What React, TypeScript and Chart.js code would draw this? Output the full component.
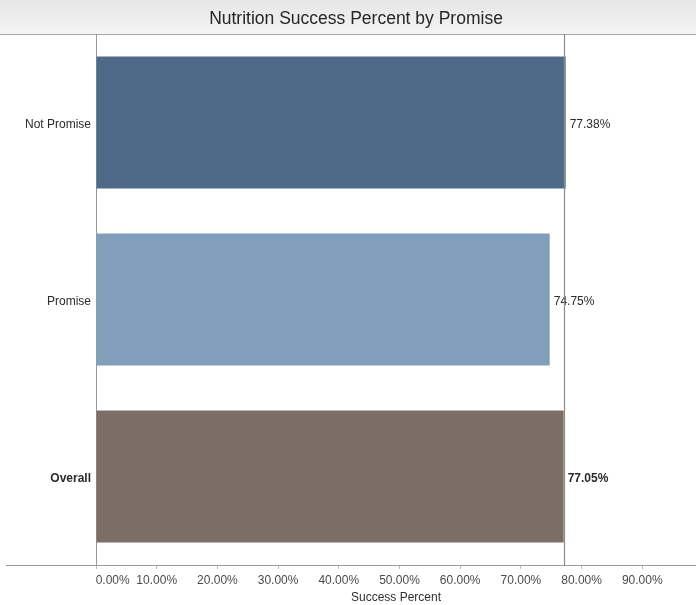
import React, { useEffect, useRef } from "react";
import { Chart, registerables } from "chart.js";

Chart.register(...registerables);

const categories = ["Not Promise", "Promise", "Overall"];
const successPct = [77.38, 74.75, 77.05];
const barColors = ["#4f6a88", "#819fbb", "#7c6e67"];
const xTickValues = [0, 10, 20, 30, 40, 50, 60, 70, 80, 90];
const referenceValue = 77.05;
const titleText = "Nutrition Success Percent by Promise";
const xAxisTitle = "Success Percent";

const FONT = "'Liberation Sans', Arial, Helvetica, sans-serif";

export default function App() {
  const ref = useRef<HTMLCanvasElement | null>(null);

  useEffect(() => {
    document.body.style.margin = "0";
    const canvas = ref.current!;
    const decor = {
      id: "decor",
      beforeDraw(chart: any) {
        const { ctx, width } = chart;
        ctx.save();
        ctx.fillStyle = "#ffffff";
        ctx.fillRect(0, 0, width, chart.height);
        const g = ctx.createLinearGradient(0, 0, 0, 34);
        g.addColorStop(0, "#e6e6e6");
        g.addColorStop(1, "#f4f4f4");
        ctx.fillStyle = g;
        ctx.fillRect(0, 0, width, 34);
        ctx.strokeStyle = "#a8a8a8";
        ctx.lineWidth = 1;
        ctx.beginPath();
        ctx.moveTo(0, 34.5);
        ctx.lineTo(width, 34.5);
        ctx.stroke();
        // title
        ctx.fillStyle = "#262626";
        ctx.font = "17.5px " + FONT;
        ctx.textAlign = "center";
        ctx.textBaseline = "alphabetic";
        ctx.fillText(titleText, 356, 24);
        ctx.restore();
      },
      afterDraw(chart: any) {
        const { ctx, chartArea } = chart;
        const xs = chart.scales.x;
        const meta = chart.getDatasetMeta(0);
        ctx.save();
        // extend bottom axis line to the left
        ctx.strokeStyle = "#9a9a9a";
        ctx.lineWidth = 1;
        ctx.beginPath();
        ctx.moveTo(6, chartArea.bottom + 0.5);
        ctx.lineTo(chartArea.left, chartArea.bottom + 0.5);
        ctx.stroke();
        // value labels
        ctx.textBaseline = "middle";
        ctx.textAlign = "left";
        meta.data.forEach((bar: any, i: number) => {
          ctx.fillStyle = "#2a2a2a";
          ctx.font =
            (categories[i] === "Overall" ? "bold " : "") + "12px " + FONT;
          ctx.fillText(successPct[i].toFixed(2) + "%", bar.x + 4, bar.y + 2);
        });
        // reference line (overall)
        const rx = Math.round(xs.getPixelForValue(referenceValue)) + 0.5;
        ctx.strokeStyle = "#8a8a8a";
        ctx.lineWidth = 1.2;
        ctx.beginPath();
        ctx.moveTo(rx, chartArea.top);
        ctx.lineTo(rx, chartArea.bottom + 1);
        ctx.stroke();
        ctx.restore();
      },
    };

    const chart = new Chart(canvas, {
      type: "bar",
      data: {
        labels: categories,
        datasets: [
          {
            data: successPct,
            backgroundColor: barColors,
            borderWidth: 0,
            barPercentage: 0.746,
            categoryPercentage: 1,
          },
        ],
      },
      options: {
        indexAxis: "y",
        animation: false,
        responsive: false,
        maintainAspectRatio: false,
        layout: { padding: { top: 34, left: 0, right: 0, bottom: 0 } },
        plugins: {
          legend: { display: false },
          tooltip: { enabled: false },
          title: { display: false },
        },
        scales: {
          x: {
            type: "linear",
            min: 0,
            max: 98.85,
            afterBuildTicks(scale: any) {
              scale.ticks = xTickValues.map((v) => ({ value: v }));
            },
            afterFit(scale: any) {
              scale.height = 40;
            },
            grid: {
              display: true,
              drawOnChartArea: false,
              drawTicks: true,
              tickLength: 4,
              color: "#bdbdbd",
            },
            border: { display: true, color: "#9a9a9a", width: 1 },
            ticks: {
              autoSkip: false,
              maxRotation: 0,
              padding: 4,
              color: "#4a4a4a",
              font: { family: FONT, size: 12 },
              callback(value: any) {
                const s = Number(value).toFixed(2) + "%";
                return Number(value) === 0 ? "          " + s : s;
              },
            },
            title: {
              display: true,
              text: xAxisTitle,
              color: "#2f2f2f",
              font: { family: FONT, size: 12 },
              padding: { top: 0, bottom: 0 },
            },
          },
          y: {
            type: "category",
            afterFit(scale: any) {
              scale.width = 96;
            },
            grid: { display: false, drawTicks: false },
            border: { display: true, color: "#9a9a9a", width: 1 },
            ticks: {
              padding: 5,
              labelOffset: 2,
              color: "#2a2a2a",
              font: (c: any) => ({
                family: FONT,
                size: 12,
                weight: c.tick && c.tick.label === "Overall" ? "bold" : "normal",
              }),
            },
          },
        },
      },
      plugins: [decor],
    } as any);
    return () => chart.destroy();
  }, []);

  return (
    <div style={{ position: "absolute", left: 0, top: 0, width: 696, height: 605 }}>
      <canvas ref={ref} width={696} height={605} style={{ width: 696, height: 605 }} />
    </div>
  );
}
